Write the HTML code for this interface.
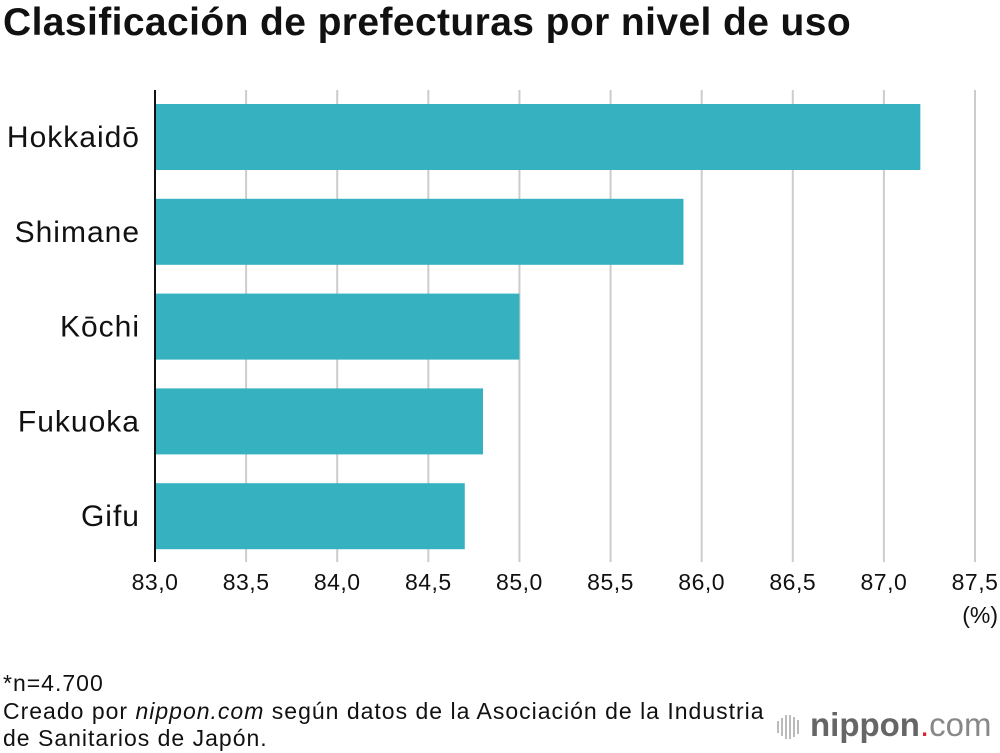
<!DOCTYPE html>
<html><head><meta charset="utf-8"><style>
body{margin:0;width:1000px;height:752px;background:#fff;font-family:"Liberation Sans",sans-serif;overflow:hidden;position:relative}
.t{position:absolute;white-space:nowrap;color:#111}
</style></head><body>
<div class="t" style="left:3px;top:1px;font-size:39px;font-weight:bold;letter-spacing:0.4px">Clasificación de prefecturas por nivel de uso</div>
<svg id="c" width="1000" height="640" style="position:absolute;left:0;top:0"></svg>
<div class="t" style="left:3px;top:670px;font-size:23px;line-height:27.5px;letter-spacing:1px">*n=4.700<br>Creado por <i>nippon.com</i> según datos de la Asociación de la Industria<br>de Sanitarios de Japón.</div>
<div style="position:absolute;left:772px;top:703px;width:228px;height:45px">
<svg width="40" height="45" style="position:absolute;left:0;top:0">
<g stroke="#bbb" stroke-width="2"><line x1="6" y1="18" x2="6" y2="30"/><line x1="10" y1="15" x2="10" y2="33"/><line x1="14" y1="12" x2="14" y2="36"/><line x1="18" y1="12" x2="18" y2="36"/><line x1="22" y1="14" x2="22" y2="34"/><line x1="26" y1="17" x2="26" y2="31"/></g></svg>
<div class="t" style="left:38px;top:3px;font-size:33px;color:#666"><b>nippon</b><span style="color:#e0202a">.</span><span style="color:#888">com</span></div>
</div>
<script>
const categories=["Hokkaidō","Shimane","Kōchi","Fukuoka","Gifu"];
const values=[87.2,85.9,85.0,84.8,84.7];
const ticks=[83.0,83.5,84.0,84.5,85.0,85.5,86.0,86.5,87.0,87.5];
const tickLabels=["83,0","83,5","84,0","84,5","85,0","85,5","86,0","86,5","87,0","87,5"];
const svg=document.getElementById('c');const NS="http://www.w3.org/2000/svg";
const x=v=>155+(v-83)/4.5*820;
const y0=104,step=94.8,bh=66;
function mk(t,a){const e=document.createElementNS(NS,t);for(const k in a)e.setAttribute(k,a[k]);svg.appendChild(e);return e;}
ticks.forEach((t,i)=>{
 if(i>0){const g=mk('line',{x1:x(t),x2:x(t),y1:90,y2:562,stroke:'#ccc','stroke-width':2});
 
 }
 const tx=mk('text',{x:x(t),y:590,'text-anchor':'middle','font-size':23,'letter-spacing':0.5,fill:'#111'});tx.textContent=tickLabels[i];
 
 
});
const u=mk('text',{x:998,y:623,'text-anchor':'end','font-size':23,fill:'#111'});u.textContent='(%)';


categories.forEach((c,i)=>{
 const yy=y0+i*step;
 const r=mk('rect',{x:x(83),y:yy,width:x(values[i])-x(83),height:bh,fill:'#35b1bf'});
 
 
 const l=mk('text',{x:140,y:yy+bh/2+10,'text-anchor':'end','font-size':30,'font-weight':500,'letter-spacing':1,fill:'#111'});l.textContent=c;
 
 
});
const ax=mk('line',{x1:155,x2:155,y1:90,y2:562,stroke:'#111','stroke-width':2});


</script>
</body></html>
